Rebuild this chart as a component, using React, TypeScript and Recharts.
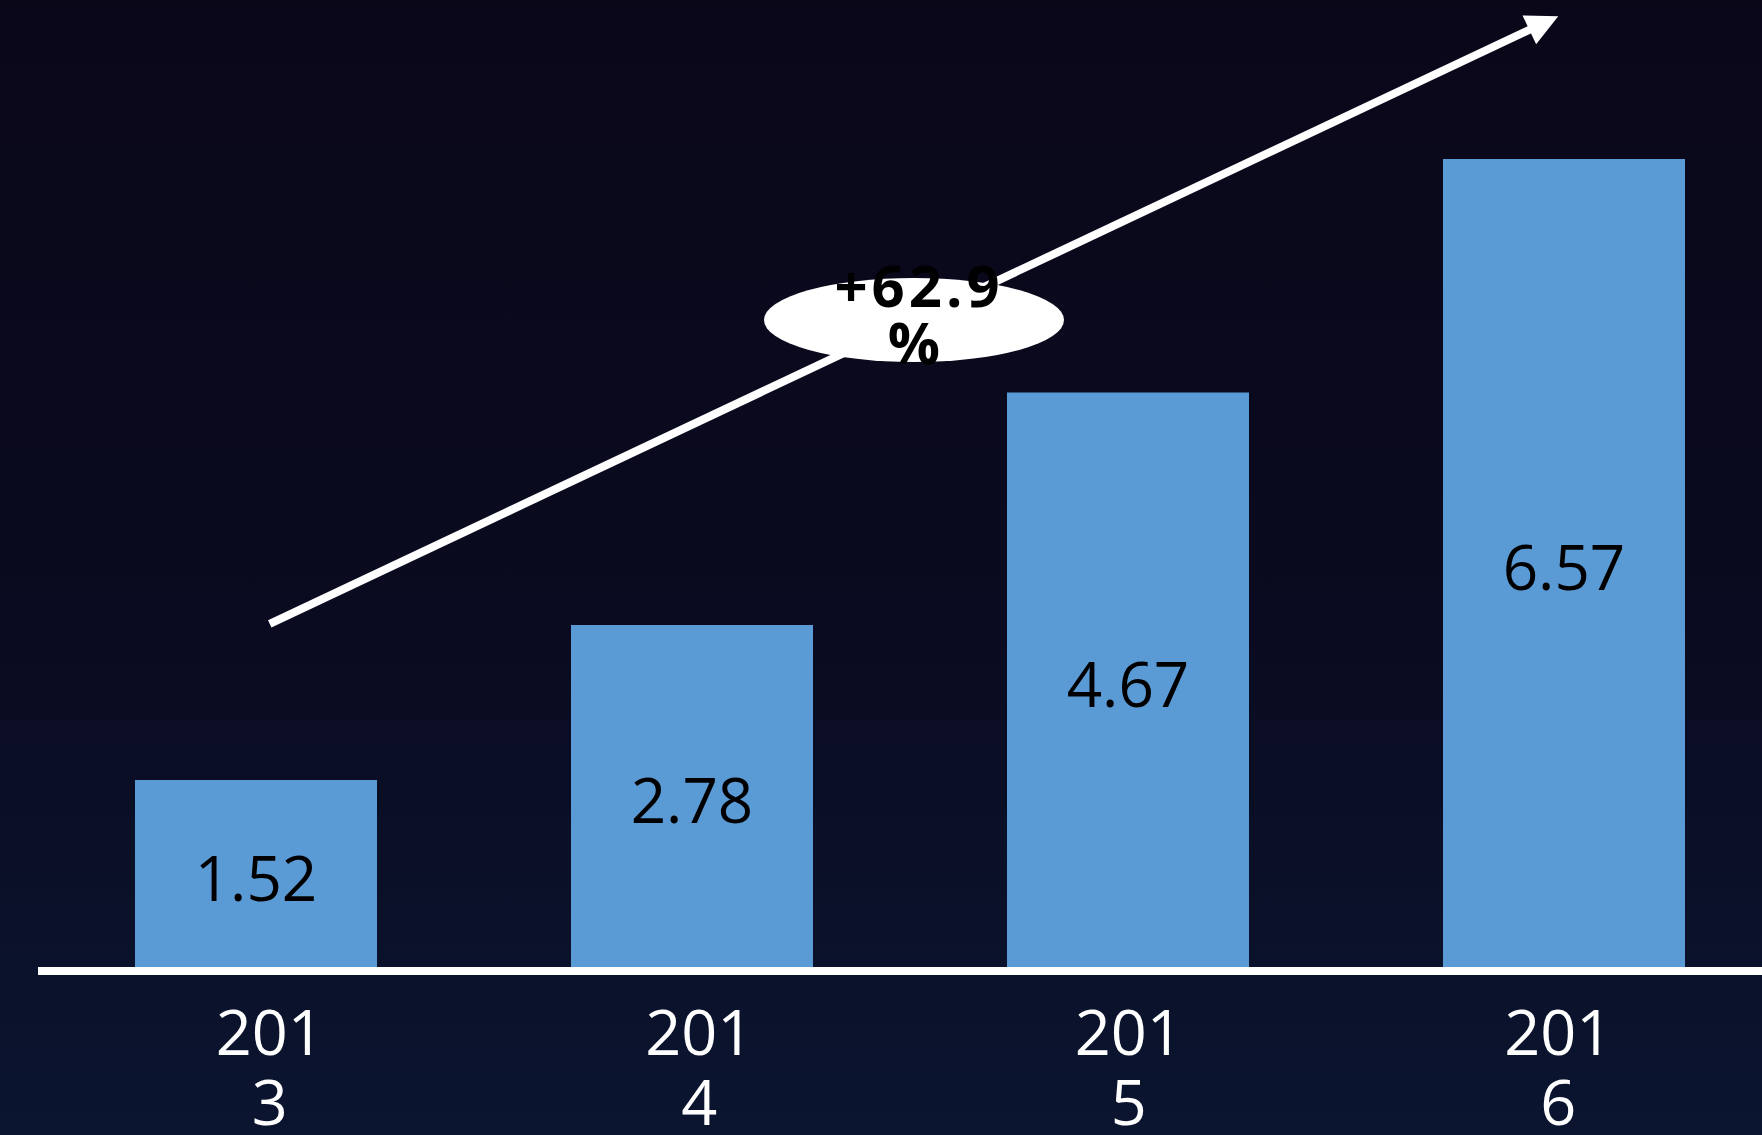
import { BarChart, Bar, XAxis, YAxis, LabelList, ReferenceLine } from 'recharts'

const years = ['2013', '2014', '2015', '2016']
const revenue = [1.52, 2.78, 4.67, 6.57]
const growthText = '+62.9%'
// trend arrow: from the first year label to the last, in value units
const trendFrom = { x: '2013', y: 2.79 }
const trendTo = { x: '2016', y: 7.73 }

const data = years.map((year, i) => ({ year, value: revenue[i] }))

const FONT = '"Open Sans", "Noto Sans", sans-serif'

function YearTick({ x, y, payload }: any) {
  const s = String(payload.value)
  return (
    <text x={x} y={y} textAnchor="middle" fill="#fff" fontSize={63} fontFamily={FONT}>
      <tspan x={x} dy={84}>{s.slice(0, 3)}</tspan>
      <tspan x={x} dy={70}>{s.slice(3)}</tspan>
    </text>
  )
}

function ValueLabel({ viewBox, value }: any) {
  const cx = viewBox.x + viewBox.width / 2
  const cy = viewBox.y + viewBox.height / 2
  return (
    <text x={cx} y={cy + 27} textAnchor="middle" fill="#000" fontSize={62} fontFamily={FONT}>
      {value}
    </text>
  )
}

function TrendArrow({ x1, y1, x2, y2 }: any) {
  const dx = x2 - x1
  const dy = y2 - y1
  const len = Math.sqrt(dx * dx + dy * dy)
  const ux = dx / len
  const uy = dy / len
  const head = 32
  const half = 16
  const bx = x2 - ux * head
  const by = y2 - uy * head
  const mx = (x1 + x2) / 2
  const my = (y1 + y2) / 2
  const pct = growthText.slice(0, -1)
  return (
    <g>
      <line x1={x1} y1={y1} x2={bx + ux * 4} y2={by + uy * 4} stroke="#fff" strokeWidth={8} />
      <polygon
        points={`${x2},${y2} ${bx - uy * half},${by + ux * half} ${bx + uy * half},${by - ux * half}`}
        fill="#fff"
      />
      <ellipse cx={mx} cy={my} rx={150} ry={42} fill="#fff" />
      <text
        x={mx}
        y={my}
        textAnchor="middle"
        fontSize={58}
        fontWeight="bold"
        letterSpacing={4}
        fill="#000"
        fontFamily={FONT}
      >
        <tspan x={mx + 5} dy={-13}>{pct}</tspan>
        <tspan x={mx + 2} dy={57}>%</tspan>
      </text>
    </g>
  )
}

export default function App() {
  return (
    <div
      style={{
        position: 'fixed',
        left: 0,
        top: 0,
        width: 1762,
        height: 1135,
        overflow: 'hidden',
        background: 'linear-gradient(180deg, #0a0719 0%, #0a0b20 55%, #0b1530 100%)',
        fontFamily: FONT,
      }}
    >
      <BarChart width={1790} height={1135} data={data} margin={{ top: 106, right: 8, bottom: 0, left: 38 }}>
        <XAxis dataKey="year" height={0} hide />
        <XAxis
          xAxisId="labels"
          dataKey="year"
          height={164}
          padding={{ left: 17, right: 9 }}
          axisLine={{ stroke: '#fff', strokeWidth: 8 }}
          tickLine={false}
          tickSize={0}
          tickMargin={0}
          tick={<YearTick />}
          interval={0}
        />
        <YAxis domain={[-0.0325, 7]} hide />
        <Bar dataKey="value" fill="#5b9bd5" barSize={242} isAnimationActive={false}>
          <LabelList dataKey="value" content={<ValueLabel />} />
        </Bar>
        <ReferenceLine
          xAxisId="labels"
          segment={[trendFrom, trendTo]}
          ifOverflow="visible"
          shape={<TrendArrow />}
        />
      </BarChart>
    </div>
  )
}
